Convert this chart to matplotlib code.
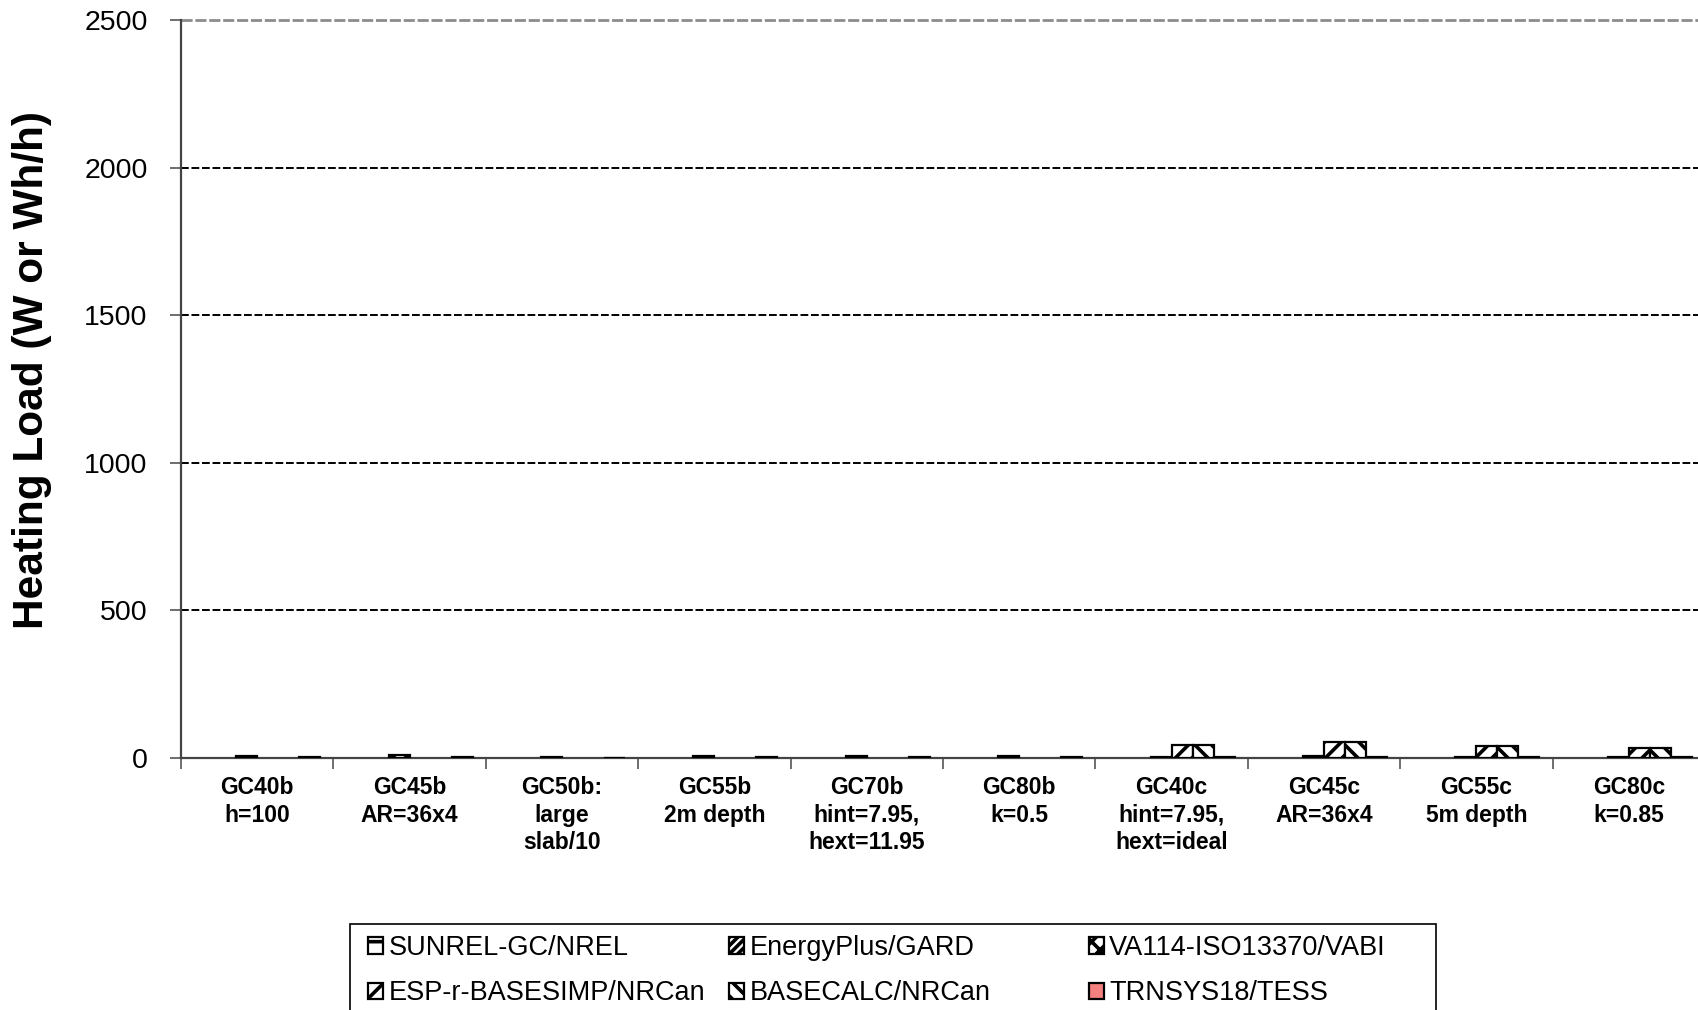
import matplotlib
matplotlib.use("Agg")
import matplotlib.pyplot as plt
from matplotlib.patches import Rectangle
import numpy as np

plt.rcParams['font.family'] = ['Liberation Sans', 'DejaVu Sans']
plt.rcParams['hatch.linewidth'] = 2.6

# cases on the x axis
cases = ["GC40b\nh=100", "GC45b\nAR=36x4", "GC50b:\nlarge\nslab/10", "GC55b\n2m depth",
         "GC70b\nhint=7.95,\nhext=11.95", "GC80b\nk=0.5", "GC40c\nhint=7.95,\nhext=ideal",
         "GC45c\nAR=36x4", "GC55c\n5m depth", "GC80c\nk=0.85"]

programs = ["SUNREL-GC/NREL", "EnergyPlus/GARD", "VA114-ISO13370/VABI",
            "ESP-r-BASESIMP/NRCan", "BASECALC/NRCan", "TRNSYS18/TESS"]

nan = np.nan
sunrel = [nan, nan, nan, nan, nan, nan, nan, nan, nan, nan]
eplus = [nan, nan, nan, nan, nan, nan, nan, nan, nan, nan]
va114 = [8, 10, 2, 8, 6, 6, 5, 6, 5, 4]
esp = [nan, nan, nan, nan, nan, nan, 43, 55, 41, 35]
basecalc = [nan, nan, nan, nan, nan, nan, 43, 55, 41, 35]
trnsys = [2, 2, 1, 2, 2, 2, 2, 2, 2, 2]

series = [sunrel, eplus, va114, esp, basecalc, trnsys]
hatches = ['-', '////', 'xx', '//', '\\\\', '']
faces = ['white', 'white', 'white', 'white', 'white', '#F48080']

fig = plt.figure(figsize=(16.99, 10.10), dpi=100)
ax = fig.add_axes([181 / 1699, 252 / 1010, 1524 / 1699, 738 / 1010])

x = np.arange(len(cases))
w = 0.138
bars = []
for i, vals in enumerate(series):
    b = ax.bar(x + (i - 2.5) * w, vals, w, color=faces[i], edgecolor='black',
               hatch=hatches[i], linewidth=1.6, label=programs[i], zorder=3)
    bars.append(b)

ax.set_xlim(-0.5, len(cases) - 0.5)
ax.set_ylim(0, 2500)
ax.set_yticks([0, 500, 1000, 1500, 2000, 2500])
for yv in [500, 1000, 1500, 2000]:
    ax.axhline(yv, color='black', lw=1.4, ls=(0, (4, 1.4)), zorder=1)
ax.axhline(2500, color='#8c8c8c', lw=2, ls=(0, (4, 1.0)), zorder=1, clip_on=False)

ax.set_xticks(x)
ax.set_xticklabels(cases, fontsize=16.5, fontweight='bold', linespacing=1.25)
ax.set_xticks(np.arange(len(cases) + 1) - 0.5, minor=True)
ax.tick_params(axis='x', which='major', length=0, pad=13)
ax.tick_params(axis='x', which='minor', length=8, width=1.2, direction='out', color='#555555')
ax.tick_params(axis='y', labelsize=20.5, length=8, width=1.2, direction='out', pad=16, color='#555555')

for s in ['top', 'right']:
    ax.spines[s].set_visible(False)
for s in ['left', 'bottom']:
    ax.spines[s].set_color('#444444')
    ax.spines[s].set_linewidth(1.6)

ax.set_ylabel('Heating Load (W or Wh/h)', fontsize=30.5, fontweight='bold')
ax.yaxis.set_label_coords(-0.0846, 0.526)

# legend: frame plus three columns, filled row by row like the original
fig.patches.append(Rectangle((350 / 1699, 1 - 1030 / 1010), 1086 / 1699, 106 / 1010,
                             transform=fig.transFigure, facecolor='white',
                             edgecolor='black', linewidth=1.2, zorder=5))
col_x = [368, 729, 1089]
for c in range(3):
    idx = [c, c + 3]
    lg = fig.legend([bars[k] for k in idx], [programs[k] for k in idx],
                    loc='upper left', bbox_to_anchor=(col_x[c] / 1699, 1 - 935 / 1010),
                    ncol=1, fontsize=19.5, frameon=False, handlelength=0.55,
                    handleheight=0.55, handletextpad=0.2, labelspacing=0.72,
                    borderpad=0, borderaxespad=0)
    lg.set_zorder(6)

fig.savefig('out.png', dpi=100)
